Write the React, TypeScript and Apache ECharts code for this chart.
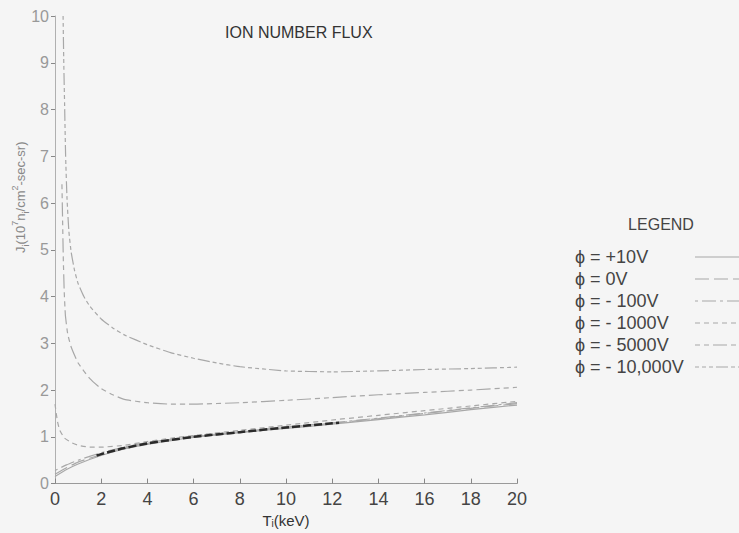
import React, { useEffect, useRef } from "react";
import * as echarts from "echarts";

// Data (x: T_i in keV, y: J_i in 10^7 n_i/cm^2-sec-sr)
const seriesNames = ["ϕ = +10V", "ϕ = 0V", "ϕ = - 100V", "ϕ = - 1000V", "ϕ = - 5000V", "ϕ = - 10,000V"];

const plus10V: [number, number][] = [
  [0, 0.15], [0.5, 0.3], [1, 0.42], [2, 0.6], [3, 0.74], [4, 0.84], [6, 0.99], [8, 1.09],
  [10, 1.18], [12, 1.27], [14, 1.37], [16, 1.47], [18, 1.58], [20, 1.68],
];
const zeroV: [number, number][] = [
  [0, 0.2], [0.5, 0.34], [1, 0.46], [2, 0.62], [3, 0.76], [4, 0.86], [6, 1.0], [8, 1.1],
  [10, 1.2], [12, 1.29], [14, 1.39], [16, 1.5], [18, 1.61], [20, 1.71],
];
const minus100V: [number, number][] = [
  [0, 0.28], [0.5, 0.4], [1, 0.5], [2, 0.66], [3, 0.78], [4, 0.88], [6, 1.01], [8, 1.11],
  [10, 1.21], [12, 1.3], [14, 1.4], [16, 1.51], [18, 1.62], [20, 1.73],
];
const minus1000V: [number, number][] = [
  [0, 1.7], [0.1, 1.35], [0.2, 1.15], [0.4, 0.98], [0.7, 0.88], [1, 0.82], [1.5, 0.78],
  [2, 0.78], [3, 0.82], [4, 0.9], [5, 0.97], [6, 1.03], [8, 1.14], [10, 1.25], [12, 1.36],
  [14, 1.46], [16, 1.56], [18, 1.66], [20, 1.76],
];
const minus5000V: [number, number][] = [
  [0.3, 6.4], [0.33, 5.6], [0.36, 4.8], [0.4, 4.1], [0.45, 3.6], [0.55, 3.2], [0.7, 2.92],
  [1, 2.58], [1.5, 2.25], [2, 2.03], [2.5, 1.9], [3, 1.8], [4, 1.73], [5, 1.7], [6, 1.7],
  [8, 1.73], [10, 1.78], [12, 1.84], [14, 1.9], [16, 1.95], [18, 2.0], [20, 2.06],
];
const minus10000V: [number, number][] = [
  [0.35, 10], [0.38, 9], [0.42, 8], [0.46, 7], [0.52, 6.1], [0.6, 5.4], [0.7, 4.95],
  [0.85, 4.55], [1, 4.28], [1.25, 4.0], [1.5, 3.8], [2, 3.52], [2.5, 3.33], [3, 3.18],
  [4, 2.97], [5, 2.8], [6, 2.68], [7, 2.58], [8, 2.5], [10, 2.41], [12, 2.39], [14, 2.41],
  [16, 2.44], [18, 2.46], [20, 2.49],
];
// darker inked stretch of the lower cluster seen in the scan
const inkedStretch: [number, number][] = [
  [1.8, 0.6], [2, 0.63], [3, 0.76], [4, 0.86], [6, 1.0], [8, 1.1], [10, 1.2], [12, 1.29], [12.3, 1.3],
];

const xTicks = [0, 2, 4, 6, 8, 10, 12, 14, 16, 18, 20];
const yTicks = [0, 1, 2, 3, 4, 5, 6, 7, 8, 9, 10];

const dashes: (number[] | "solid")[] = [
  "solid",
  [14, 5],
  [3, 4, 14, 4],
  [5, 4],
  [5, 4, 5, 4, 14, 4],
  [4, 3, 4, 3, 4, 3, 12, 3],
];
const seriesData = [plus10V, zeroV, minus100V, minus1000V, minus5000V, minus10000V];

export default function App() {
  const ref = useRef<HTMLDivElement>(null);
  useEffect(() => {
    if (!ref.current) return;
    const chart = echarts.init(ref.current, null, { renderer: "svg" });
    const lineColor = "#a8a8a8";
    const legendGraphics: any[] = [
      {
        type: "text",
        x: 661,
        y: 224,
        style: {
          text: "LEGEND",
          fill: "#444",
          font: "16px 'Liberation Sans', sans-serif",
          align: "center",
          verticalAlign: "middle",
        },
      },
    ];
    seriesNames.forEach((n, i) => {
      const y = 257 + i * 22;
      legendGraphics.push({
        type: "text",
        x: 575,
        y,
        style: {
          text: n,
          fill: "#444",
          font: "18px 'Liberation Sans', sans-serif",
          align: "left",
          verticalAlign: "middle",
        },
      });
      legendGraphics.push({
        type: "line",
        shape: { x1: 695, y1: y, x2: 739, y2: y },
        style: {
          stroke: lineColor,
          lineWidth: 1.2,
          lineDash: dashes[i] === "solid" ? null : dashes[i],
        },
      });
    });

    chart.setOption({
      animation: false,
      backgroundColor: "#f5f5f5",
      title: {
        text: "ION NUMBER FLUX",
        left: 220,
        top: 19,
        textStyle: {
          fontSize: 16,
          fontWeight: "normal",
          color: "#333",
          fontFamily: "'Liberation Sans', sans-serif",
        },
      },
      grid: { left: 55, right: 222, top: 16, bottom: 47 },
      xAxis: {
        type: "value",
        min: xTicks[0],
        max: xTicks[xTicks.length - 1],
        interval: 2,
        name: "{a|T}{s|i}{a|(keV)}",
        nameLocation: "middle",
        nameGap: 27,
        nameTextStyle: {
          rich: {
            a: { fontSize: 15, color: "#333", fontFamily: "'Liberation Sans', sans-serif" },
            s: {
              fontSize: 10,
              color: "#333",
              verticalAlign: "bottom",
              padding: [6, 0, 0, 0],
              fontFamily: "'Liberation Sans', sans-serif",
            },
          },
        },
        axisLine: { lineStyle: { color: "#9a9a9a", width: 1 } },
        axisTick: { inside: true, length: 5, lineStyle: { color: "#888" } },
        axisLabel: {
          fontSize: 18,
          color: "#444",
          margin: 6,
          fontFamily: "'Liberation Sans', sans-serif",
        },
        splitLine: { show: false },
      },
      yAxis: {
        type: "value",
        min: yTicks[0],
        max: yTicks[yTicks.length - 1],
        interval: 1,
        axisLine: { show: true, lineStyle: { color: "#b0b0b0", width: 1 } },
        axisTick: { show: true, inside: false, length: 4, lineStyle: { color: "#888" } },
        axisLabel: {
          fontSize: 16,
          color: "#999",
          margin: 6,
          fontFamily: "'Liberation Sans', sans-serif",
        },
        splitLine: { show: false },
      },
      series: [
        ...seriesData.map((d, i) => ({
          name: seriesNames[i],
          type: "line",
          data: d,
          showSymbol: false,
          smooth: 0.15,
          clip: true,
          lineStyle: {
            color: lineColor,
            width: 1.2,
            type: dashes[i],
          },
          z: 2,
        })),
        {
          name: "inked",
          type: "line",
          data: inkedStretch,
          showSymbol: false,
          smooth: 0.15,
          lineStyle: { color: "#2a2a2a", width: 2.5, type: [8, 3] },
          z: 3,
        },
      ],
      graphic: [
        {
          type: "text",
          x: 20,
          y: 253,
          rotation: Math.PI / 2,
          style: {
            text: "{a|J}{s|i}{a|(10}{p|7}{a|n}{s|i}{a|/cm}{p|2}{a|-sec-sr)}",
            align: "left",
            verticalAlign: "middle",
            rich: {
              a: { fontSize: 13, fill: "#888", fontFamily: "'Liberation Sans', sans-serif", lineHeight: 20 },
              s: { fontSize: 9, fill: "#888", verticalAlign: "bottom", lineHeight: 20, padding: [7, 0, 0, 0] },
              p: { fontSize: 9, fill: "#888", verticalAlign: "top", lineHeight: 20, padding: [0, 0, 7, 0] },
            },
          },
        },
        ...legendGraphics,
      ],
    });
    return () => chart.dispose();
  }, []);
  return (
    <div
      ref={ref}
      style={{ position: "fixed", left: 0, top: 0, width: 739, height: 533, background: "#f5f5f5" }}
    />
  );
}
